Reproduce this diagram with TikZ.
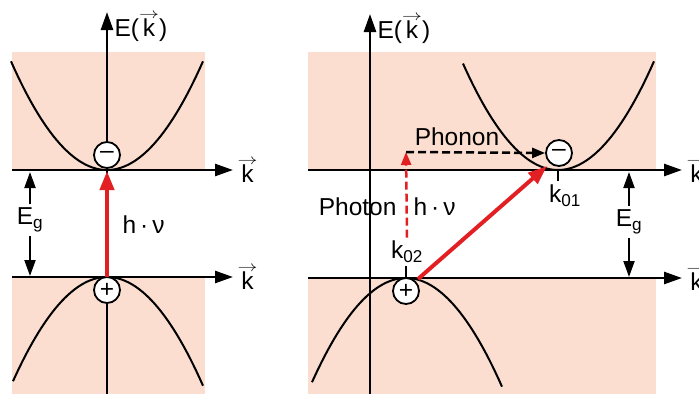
\documentclass[tikz,border=0pt]{standalone}
\usepackage{amsmath}
\usepackage{fontspec}
\setmainfont{Liberation Sans}
\usepackage{tikz}
\usetikzlibrary{arrows.meta,positioning}

\definecolor{bandpink}{RGB}{251,222,207}
\definecolor{lightred}{RGB}{226,32,36}

% k with a thin arrow on top
\newcommand{\kvec}{\leavevmode\vbox{\offinterlineskip\halign{\hfil##\hfil\cr
  \scalebox{0.8}[0.6]{$\rightarrow$}\cr\noalign{\kern0pt}k\cr}}}

\tikzset{
  axis/.style={line width=2.6pt,-{Triangle[length=18pt,width=12pt]}},
  band/.style={line width=2pt},
  carrier/.style={circle,draw,line width=1.8pt,fill=white,minimum size=26pt,inner sep=0pt},
  gaparrow/.style={line width=2pt,-{Triangle[length=16pt,width=11pt]}},
  photonarrow/.style={lightred,line width=4pt,-{Triangle[length=19pt,width=14pt]}},
  photondash/.style={lightred,line width=2.5pt,dash pattern=on 8pt off 4pt,-{Triangle[length=13pt,width=10pt]}},
  phonondash/.style={line width=2.5pt,dash pattern=on 8pt off 4pt,-{Triangle[length=13pt,width=10pt]}},
  tick/.style={line width=2.6pt}
}

\begin{document}
\begin{tikzpicture}[x=1pt,y=-1pt,font=\fontsize{24.5}{27}\selectfont]
    \useasboundingbox (0,0) rectangle (699,394);

    % Bands (left: direct)
    \fill[bandpink] (12,52) rectangle (205,170);
    \fill[bandpink] (12,277) rectangle (205,394);
    \draw[band] plot[domain=-96:96,samples=60] ({107+\x},{170-0.0118*\x*\x});
    \draw[band] plot[domain=-94:96,samples=60] ({107+\x},{277+0.0118*\x*\x});

    % Bands (right: indirect)
    \fill[bandpink] (308,52) rectangle (656,170);
    \fill[bandpink] (308,278) rectangle (656,394);
    \draw[band] plot[domain=-95:96,samples=60] ({558+\x},{170-0.0118*\x*\x});
    \draw[band] plot[domain=-94:96,samples=60] ({406+\x},{278+0.0118*\x*\x});

    % Axes
    \draw[axis] (107,394) -- (107,12) node[anchor=west,xshift=3pt,yshift=-15pt] {E(\kvec)};
    \draw[axis] (12,170) -- (233,170) node[anchor=west,yshift=-1pt] {\kvec};
    \draw[axis] (12,277) -- (233,277) node[anchor=west,yshift=-1pt] {\kvec};
    \draw[axis] (370,394) -- (370,14) node[anchor=west,xshift=3pt,yshift=-15pt] {E(\kvec)};
    \draw[axis] (308,170) -- (682,170) node[anchor=west,yshift=-1pt] {\kvec};
    \draw[axis] (308,278) -- (682,278) node[anchor=west,yshift=-1pt] {\kvec};

    % Ticks and labels k01, k02
    \draw[tick] (558,170) -- (558,181);
    \node (kone) at (565,196) {k$_{\text{01}}$};
    \draw[tick] (406,278) -- (406,266);
    \node (ktwo) at (407,252) {k$_{\text{02}}$};

    % Carriers
    \node[carrier] (elecL) at (107,155) {\textendash};
    \node[carrier] (holeL) at (107,290) {+};
    \node[carrier] (elecR) at (559,153) {\textendash};
    \node[carrier] (holeR) at (406,291) {+};

    % Direct transition
    \coordinate (vbL) at (107,277);
    \coordinate (cbL) at (107,171);
    \draw[photonarrow] (vbL) -- (cbL);
    \node[anchor=west] (hnuL) at (119,225) {h\,·\,ν};

    % Indirect transition
    \coordinate (vbR) at (418,279);
    \coordinate (cbR) at (547,166);
    \coordinate (corner) at (406,152);
    \draw[photonarrow] (vbR) -- (cbR);
    \draw[photondash] (ktwo.north) -- (corner);
    \draw[phonondash] (corner) -- (elecR.west);
    \node (phonon) at (457,137) {Phonon};
    \node[anchor=east] (photon) at (400,207) {Photon};
    \node[anchor=west] (hnuR) at (410,207) {h\,·\,ν};

    % Band gaps
    \node (EgL) at (30,220) {E$_{\text{g}}$};
    \draw[gaparrow] (EgL) -- (30,172);
    \draw[gaparrow] (EgL) -- (30,276);
    \node (EgR) at (629,222) {E$_{\text{g}}$};
    \draw[gaparrow] (EgR) -- (629,172);
    \draw[gaparrow] (EgR) -- (629,277);
\end{tikzpicture}
\end{document}
